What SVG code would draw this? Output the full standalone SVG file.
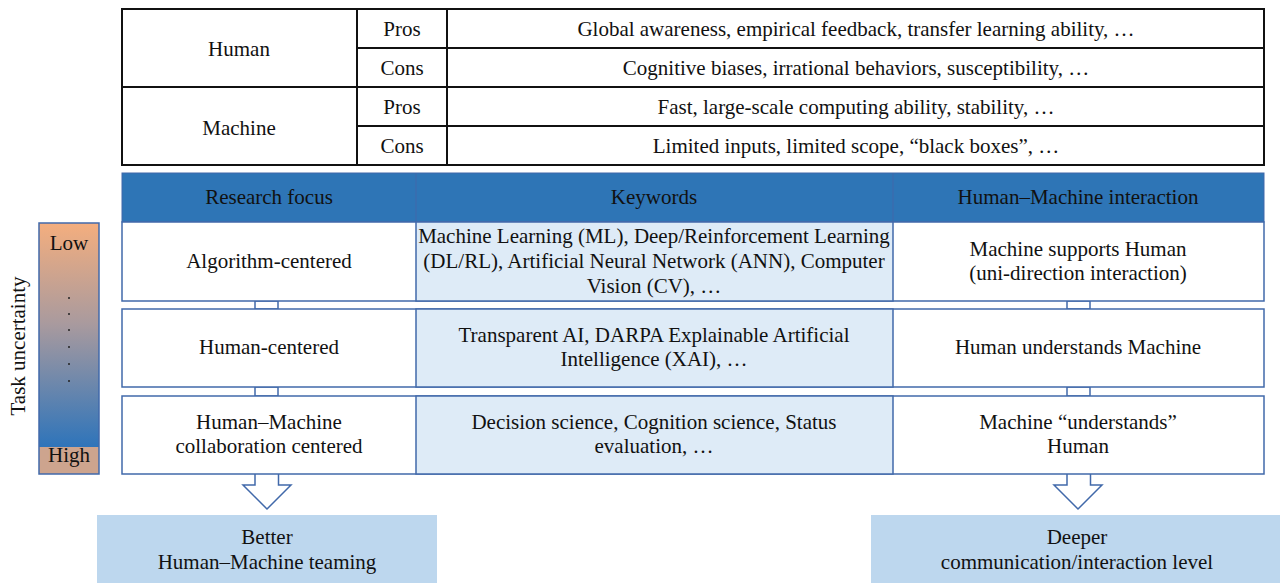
<svg xmlns="http://www.w3.org/2000/svg" width="1280" height="583" viewBox="0 0 1280 583" font-family="Liberation Serif, Times New Roman, serif">
  <style>
    text { font-size: 21px; fill: #111; text-anchor: middle; dominant-baseline: central; }
    .grid { fill: none; stroke: #111; stroke-width: 2; }
    .cell { fill: #fff; stroke: #4169AA; stroke-width: 1.5; }
    .kw { fill: #DEEBF7; stroke: #4169AA; stroke-width: 1.5; }
    .hdr { fill: #2E75B6; stroke: #4169AA; stroke-width: 1; }
    .link { fill: #fff; stroke: #4169AA; stroke-width: 1.5; }
    .out { fill: #BDD7EE; }
  </style>
  <defs>
    <linearGradient id="uncert" x1="0" y1="0" x2="0" y2="1">
      <stop offset="0" stop-color="#F4AE7E"/>
      <stop offset="0.45" stop-color="#A99A9E"/>
      <stop offset="1" stop-color="#2E74BA"/>
    </linearGradient>
  </defs>
  <rect width="1280" height="583" fill="#fff"/>

  <!-- Pros / cons table -->
  <g id="pros-cons">
    <rect class="grid" x="122" y="9" width="1142" height="156"/>
    <line class="grid" x1="122" y1="87" x2="1264" y2="87"/>
    <line class="grid" x1="357" y1="48" x2="1264" y2="48"/>
    <line class="grid" x1="357" y1="126" x2="1264" y2="126"/>
    <line class="grid" x1="357" y1="9" x2="357" y2="165"/>
    <line class="grid" x1="447" y1="9" x2="447" y2="165"/>
    <text x="239" y="49">Human</text>
    <text x="239" y="128">Machine</text>
    <text x="402" y="29">Pros</text>
    <text x="402" y="68">Cons</text>
    <text x="402" y="107">Pros</text>
    <text x="402" y="146">Cons</text>
    <text x="856" y="29">Global awareness, empirical feedback, transfer learning ability, …</text>
    <text x="856" y="68">Cognitive biases, irrational behaviors, susceptibility, …</text>
    <text x="856" y="107">Fast, large-scale computing ability, stability, …</text>
    <text x="856" y="146">Limited inputs, limited scope, “black boxes”, …</text>
  </g>

  <!-- Task uncertainty scale -->
  <g id="uncertainty-scale">
    <text x="18" y="346" transform="rotate(-90 18 346)">Task uncertainty</text>
    <rect x="39" y="223" width="60" height="224" fill="url(#uncert)"/>
    <rect x="39" y="447" width="60" height="27" fill="#CDA48E"/>
    <rect x="39" y="223" width="60" height="251" fill="none" stroke="#4169AA" stroke-width="1.5"/>
    <text x="69" y="243">Low</text>
    <text x="69" y="455">High</text>
    <g fill="#222">
      <circle cx="69" cy="298" r="1"/>
      <circle cx="69" cy="314" r="1"/>
      <circle cx="69" cy="330" r="1"/>
      <circle cx="69" cy="347" r="1"/>
      <circle cx="69" cy="364" r="1"/>
      <circle cx="69" cy="381" r="1"/>
    </g>
  </g>

  <!-- Header -->
  <g id="header">
    <rect class="hdr" x="122" y="173" width="1142" height="49"/>
    <line x1="416" y1="173" x2="416" y2="222" stroke="#4169AA" stroke-width="1"/>
    <line x1="893" y1="173" x2="893" y2="222" stroke="#4169AA" stroke-width="1"/>
    <text x="269" y="197">Research focus</text>
    <text x="654" y="197">Keywords</text>
    <text x="1078" y="197">Human–Machine interaction</text>
  </g>

  <!-- Connectors between rows and to outcomes -->
  <g id="connectors">
    <rect class="link" x="255" y="301" width="23" height="8"/>
    <rect class="link" x="1067" y="301" width="23" height="8"/>
    <rect class="link" x="255" y="387" width="23" height="9"/>
    <rect class="link" x="1067" y="387" width="23" height="9"/>
    <path class="link" d="M255,474 V485 H243 L267,509 L291,485 H278.5 V474"/>
    <path class="link" d="M1067,474 V485 H1054 L1078,509 L1102,485 H1090.5 V474"/>
  </g>

  <!-- Row 1 -->
  <g id="row-algorithm">
    <rect class="cell" x="122" y="222" width="1142" height="79"/>
    <rect class="kw" x="416" y="222" width="477" height="79"/>
    <text x="269" y="261">Algorithm-centered</text>
    <text x="654" y="236">Machine Learning (ML), Deep/Reinforcement Learning</text>
    <text x="654" y="261">(DL/RL), Artificial Neural Network (ANN), Computer</text>
    <text x="654" y="286">Vision (CV), …</text>
    <text x="1078" y="249">Machine supports Human</text>
    <text x="1078" y="273">(uni-direction interaction)</text>
  </g>

  <!-- Row 2 -->
  <g id="row-human">
    <rect class="cell" x="122" y="309" width="1142" height="78"/>
    <rect class="kw" x="416" y="309" width="477" height="78"/>
    <text x="269" y="347">Human-centered</text>
    <text x="654" y="335">Transparent AI, DARPA Explainable Artificial</text>
    <text x="654" y="359">Intelligence (XAI), …</text>
    <text x="1078" y="347">Human understands Machine</text>
  </g>

  <!-- Row 3 -->
  <g id="row-collaboration">
    <rect class="cell" x="122" y="396" width="1142" height="78"/>
    <rect class="kw" x="416" y="396" width="477" height="78"/>
    <text x="269" y="422">Human–Machine</text>
    <text x="269" y="446">collaboration centered</text>
    <text x="654" y="422">Decision science, Cognition science, Status</text>
    <text x="654" y="446">evaluation, …</text>
    <text x="1078" y="422">Machine “understands”</text>
    <text x="1078" y="446">Human</text>
  </g>

  <!-- Outcomes -->
  <g id="outcome-teaming">
    <rect class="out" x="97" y="515" width="340" height="68"/>
    <text x="267" y="537">Better</text>
    <text x="267" y="562">Human–Machine teaming</text>
  </g>
  <g id="outcome-communication">
    <rect class="out" x="871" y="515" width="409" height="68"/>
    <text x="1077" y="537">Deeper</text>
    <text x="1077" y="562">communication/interaction level</text>
  </g>
</svg>
